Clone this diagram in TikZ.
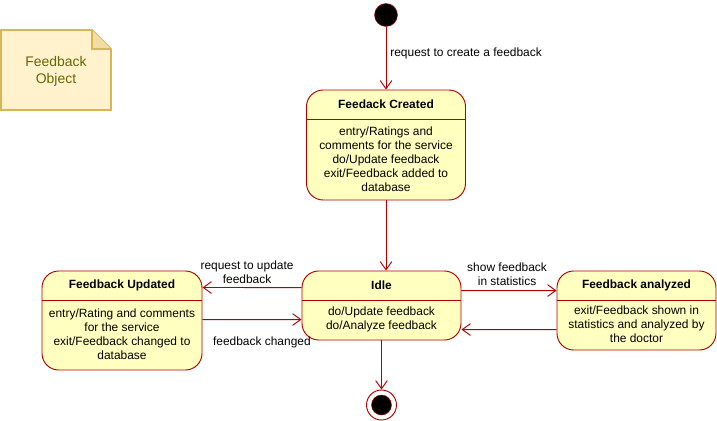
\documentclass[tikz,border=0pt]{standalone}
\usepackage{fontspec}
\setmainfont{Liberation Sans}
\usetikzlibrary{arrows.meta,positioning,calc}
\definecolor{fbred}{HTML}{B20000}
\definecolor{fbyellow}{HTML}{FFFFC0}
\definecolor{notefill}{HTML}{FFF2CC}
\definecolor{notedraw}{HTML}{D6B656}
\definecolor{notetext}{HTML}{666600}

\begin{document}
\begin{tikzpicture}[x=0.03cm, y=-0.03cm, font=\fontsize{10.2}{11.9}\selectfont,
  umlstate/.style={draw=fbred, fill=fbyellow, line width=0.8pt, rounded corners=0.5cm, minimum width=4.77cm},
  statetitle/.style={font=\fontsize{10.2}{11.9}\selectfont\bfseries},
  statebody/.style={align=center},
  trans/.style={draw=fbred, line width=0.8pt, -{Straight Barb[length=7pt,width=10pt]}},
  lbl/.style={align=center, inner sep=2pt}]
  \useasboundingbox (0,0) rectangle (717,421);

  % note
  \draw[draw=notedraw, fill=notefill, line width=1.6pt] (1,30) -- (92,30) -- (111,49) -- (111,110) -- (1,110) -- cycle;
  \draw[draw=notedraw, fill=notedraw!35!notefill, line width=1.6pt] (92,30) -- (92,49) -- (111,49);
  \node[text=notetext, align=center, font=\fontsize{11.9}{14.5}\selectfont] (note) at (56,71) {Feedback\\Object};

  % states
  \node[circle, draw=fbred, fill=black, minimum size=0.69cm, inner sep=0pt] (start) at (386,15) {};
  \node[umlstate, minimum height=3.3cm] (created) at (386,145) {};
  \node[umlstate, minimum height=2.07cm] (idle) at (381.5,305.5) {};
  \node[umlstate, minimum width=4.8cm, minimum height=2.97cm] (updated) at (122,320.5) {};
  \node[umlstate, minimum height=2.37cm] (analyzed) at (636.5,310.5) {};
  \node[circle, draw=fbred, fill=white, line width=0.8pt, minimum size=0.9cm, inner sep=0pt] (stop) at (381.5,405) {};
  \node[circle, draw=fbred, fill=black, minimum size=0.6cm, inner sep=0pt] (stopDot) at (stop) {};

  \foreach \s in {created, idle, updated, analyzed}
    \draw[fbred, line width=0.8pt] ($(\s.north west)+(0,30)$) -- ($(\s.north east)+(0,30)$);

  \node[statetitle] (createdTitle) at ($(created.north)+(0,15)$) {Feedack Created};
  \node[statebody] (createdBody) at ($(created.north)+(0,70)$) {entry/Ratings and\\comments for the service\\do/Update feedback\\exit/Feedback added to\\database};
  \node[statetitle] (idleTitle) at ($(idle.north)+(0,15)$) {Idle};
  \node[statebody] (idleBody) at ($(idle.north)+(0,48.5)$) {do/Update feedback\\do/Analyze feedback};
  \node[statetitle] (updatedTitle) at ($(updated.north)+(0,15)$) {Feedback Updated};
  \node[statebody] (updatedBody) at ($(updated.north)+(0,64)$) {entry/Rating and comments\\for the service\\exit/Feedback changed to\\database};
  \node[statetitle] (analyzedTitle) at ($(analyzed.north)+(0,15)$) {Feedback analyzed};
  \node[statebody] (analyzedBody) at ($(analyzed.north)+(0,54)$) {exit/Feedback shown in\\statistics and analyzed by\\the doctor};

  % transitions
  \draw[trans] (start) -- (created) node[pos=0.42, right] {request to create a feedback};
  \draw[trans] (created.south) -- (created.south |- idle.north);
  \draw[trans] (idle) -- (stop);
  \draw[trans] ($(idle.north west)+(0,17)$) -- ($(updated.north east)+(0,17)$) node[pos=0.55, above=1pt, lbl] {request to update\\feedback};
  \draw[trans] ($(updated.north east)+(0,49)$) -- ($(idle.north west)+(0,49)$) node[pos=0.6, below=11pt] {feedback changed};
  \draw[trans] ($(idle.north east)+(0,20)$) -- ($(analyzed.north west)+(0,20)$) node[pos=0.48, above=2pt, lbl] {show feedback\\in statistics};
  \draw[trans] ($(analyzed.north west)+(0,59)$) -- ($(idle.north east)+(0,59)$);
\end{tikzpicture}
\end{document}
